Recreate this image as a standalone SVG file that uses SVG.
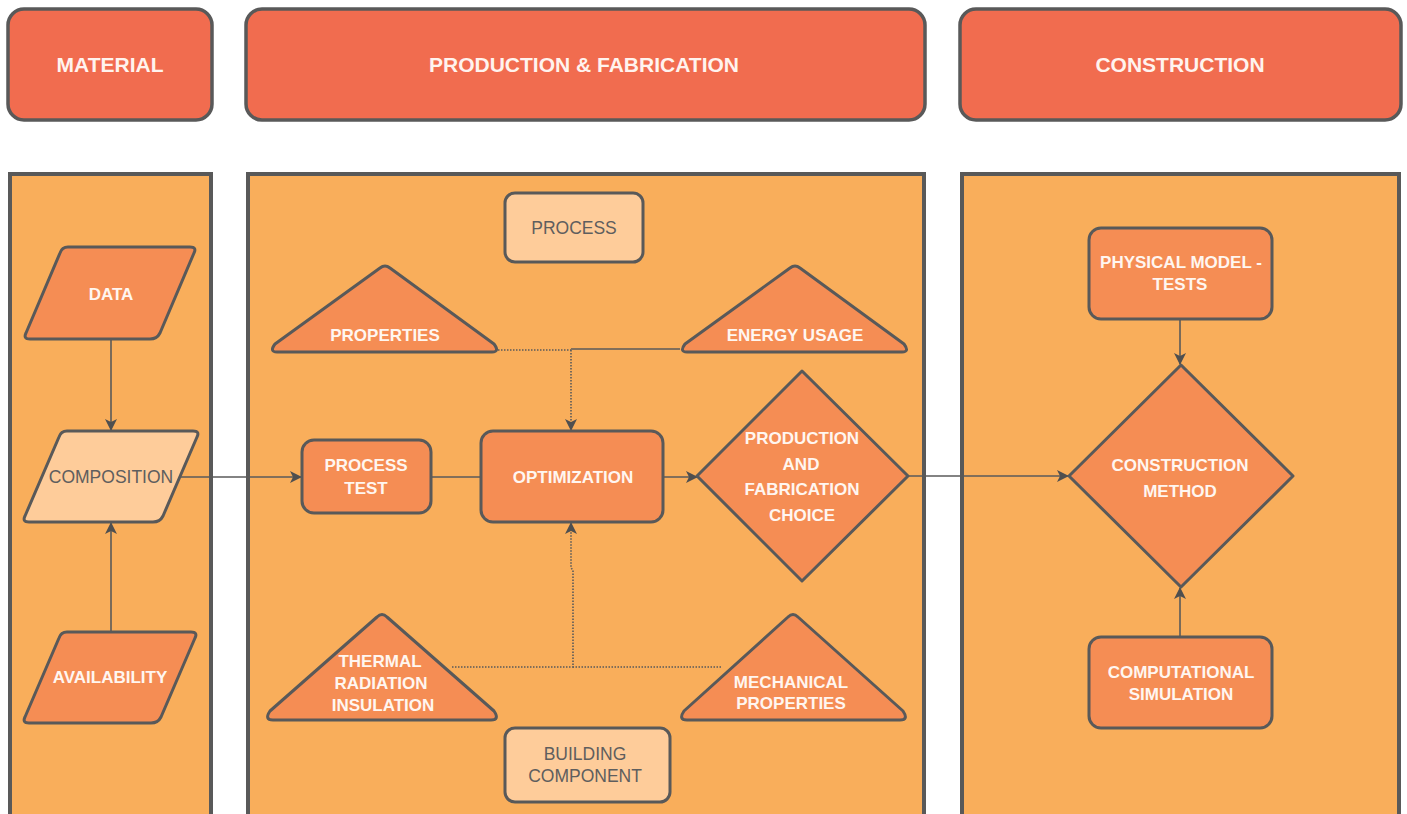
<svg xmlns="http://www.w3.org/2000/svg" width="1407" height="814" viewBox="0 0 1407 814">
<defs>
<style>
.hdr{fill:#F16C4F;stroke:#595959;stroke-width:3.5}
.cont{fill:#F9AE5B;stroke:#595959;stroke-width:4}
.node{fill:#F58D54;stroke:#595959;stroke-width:3;stroke-linejoin:round}
.light{fill:#FECC9A;stroke:#595959;stroke-width:3;stroke-linejoin:round}
.ht{font-family:"Liberation Sans",Arial,sans-serif;font-size:21px;font-weight:bold;fill:#FFF3EE;text-anchor:middle;dominant-baseline:central}
.t{font-family:"Liberation Sans",Arial,sans-serif;font-size:17px;font-weight:bold;fill:#FFF6F0;text-anchor:middle;dominant-baseline:central}
.dt{font-family:"Liberation Sans",Arial,sans-serif;font-size:17.5px;fill:#5E5E5E;text-anchor:middle;dominant-baseline:central}
.c{fill:none;stroke:#5a5a5a;stroke-width:1.6}
.d{fill:none;stroke:#5a5a5a;stroke-width:1.6;stroke-dasharray:1.5 1.5}
</style>
<marker id="ah" viewBox="0 0 12 12" refX="11" refY="6" markerWidth="12" markerHeight="12" markerUnits="userSpaceOnUse" orient="auto">
<path d="M0,0 L12,6 L0,12 L3,6 Z" fill="#4f4f4f"/>
</marker>
</defs>
<rect width="1407" height="814" fill="#ffffff"/>

<g id="header-material"><rect class="hdr" x="8" y="9" width="204" height="111" rx="16"/><text class="ht" x="110" y="64">MATERIAL</text></g>
<g id="header-production"><rect class="hdr" x="246" y="9" width="679" height="111" rx="16"/><text class="ht" x="584" y="64">PRODUCTION &amp; FABRICATION</text></g>
<g id="header-construction"><rect class="hdr" x="960" y="9" width="441" height="111" rx="16"/><text class="ht" x="1180" y="64">CONSTRUCTION</text></g>

<g id="lane-material"><rect class="cont" x="10" y="174" width="201" height="650"/></g>
<g id="lane-production"><rect class="cont" x="248" y="174" width="676" height="650"/></g>
<g id="lane-construction"><rect class="cont" x="962" y="174" width="437" height="650"/></g>

<g id="connectors">
<line class="c" x1="111" y1="339" x2="111" y2="430" marker-end="url(#ah)"/>
<line class="c" x1="111" y1="632" x2="111" y2="523" marker-end="url(#ah)"/>
<line class="c" x1="178" y1="477" x2="301" y2="477" marker-end="url(#ah)"/>
<line class="c" x1="431" y1="477" x2="481" y2="477"/>
<line class="c" x1="663" y1="477" x2="697" y2="477" marker-end="url(#ah)"/>
<line class="c" x1="908" y1="476" x2="1068" y2="476" marker-end="url(#ah)"/>
<line class="c" x1="1180" y1="319" x2="1180" y2="364" marker-end="url(#ah)"/>
<line class="c" x1="1180" y1="637" x2="1180" y2="588" marker-end="url(#ah)"/>
<path class="d" d="M498,350 L571,350"/>
<path class="c" d="M680,349 L571,349" stroke-width="1"/>
<path class="d" d="M571,350 L571,430" marker-end="url(#ah)"/>
<path class="d" d="M452,667 L573,667 L573,570 L571,568 L571,523" marker-end="url(#ah)"/>
<path class="d" d="M721,667 L573,667"/>
</g>

<g id="node-data"><path class="node" d="M68,247 L190,247 Q197,247 194,253 L160,333 Q157,339 150,339 L30,339 Q23,339 26,333 L60,253 Q62,247 68,247 Z"/><text class="t" x="111" y="294">DATA</text></g>
<g id="node-composition"><path class="light" d="M67,431 L193,431 Q200,431 197,437 L163,516 Q160,522 153,522 L29,522 Q22,522 25,516 L59,437 Q61,431 67,431 Z"/><text class="dt" x="111" y="477">COMPOSITION</text></g>
<g id="node-availability"><path class="node" d="M67,632 L191,632 Q198,632 195,638 L161,717 Q158,723 151,723 L29,723 Q22,723 25,717 L59,638 Q61,632 67,632 Z"/><text class="t" x="110" y="677">AVAILABILITY</text></g>

<g id="node-process"><rect class="light" x="505" y="193" width="138" height="69" rx="10"/><text class="dt" x="574" y="228">PROCESS</text></g>
<g id="node-properties"><path class="node" d="M380,268 Q385,264 390,268 L494,344 Q500,352 492,352 L277,352 Q269,352 275,344 Z"/><text class="t" x="385" y="335">PROPERTIES</text></g>
<g id="node-energy"><path class="node" d="M790,268 Q795,264 800,268 L904,344 Q910,352 902,352 L687,352 Q679,352 685,344 Z"/><text class="t" x="795" y="335">ENERGY USAGE</text></g>
<g id="node-process-test"><rect class="node" x="302" y="440" width="129" height="73" rx="12"/><text class="t" x="366" y="465">PROCESS</text><text class="t" x="366" y="488">TEST</text></g>
<g id="node-optimization"><rect class="node" x="481" y="431" width="182" height="91" rx="12"/><text class="t" x="573" y="477">OPTIMIZATION</text></g>
<g id="node-pf-choice"><path class="node" d="M802,371 L908,476 L802,581 L697,476 Z"/><text class="t" x="802" y="438">PRODUCTION</text><text class="t" x="801" y="464">AND</text><text class="t" x="802" y="489">FABRICATION</text><text class="t" x="802" y="515">CHOICE</text></g>
<g id="node-thermal"><path class="node" d="M377,617 Q382,612 387,617 L494,711 Q500,720 491,720 L273,720 Q264,720 270,711 Z"/><text class="t" x="380" y="661">THERMAL</text><text class="t" x="381" y="683">RADIATION</text><text class="t" x="383" y="705">INSULATION</text></g>
<g id="node-mechanical"><path class="node" d="M788,617 Q793,612 798,617 L903,711 Q909,720 900,720 L687,720 Q678,720 684,711 Z"/><text class="t" x="791" y="682">MECHANICAL</text><text class="t" x="791" y="703">PROPERTIES</text></g>
<g id="node-building"><rect class="light" x="505" y="728" width="165" height="74" rx="10"/><text class="dt" x="585" y="754">BUILDING</text><text class="dt" x="585" y="776">COMPONENT</text></g>

<g id="node-physical"><rect class="node" x="1089" y="228" width="183" height="91" rx="12"/><text class="t" x="1181" y="262">PHYSICAL MODEL -</text><text class="t" x="1180" y="284">TESTS</text></g>
<g id="node-construction-method"><path class="node" d="M1181,365 L1293,476 L1181,587 L1069,476 Z"/><text class="t" x="1180" y="465">CONSTRUCTION</text><text class="t" x="1180" y="491">METHOD</text></g>
<g id="node-computational"><rect class="node" x="1089" y="637" width="183" height="91" rx="12"/><text class="t" x="1181" y="672">COMPUTATIONAL</text><text class="t" x="1181" y="694">SIMULATION</text></g>
</svg>
